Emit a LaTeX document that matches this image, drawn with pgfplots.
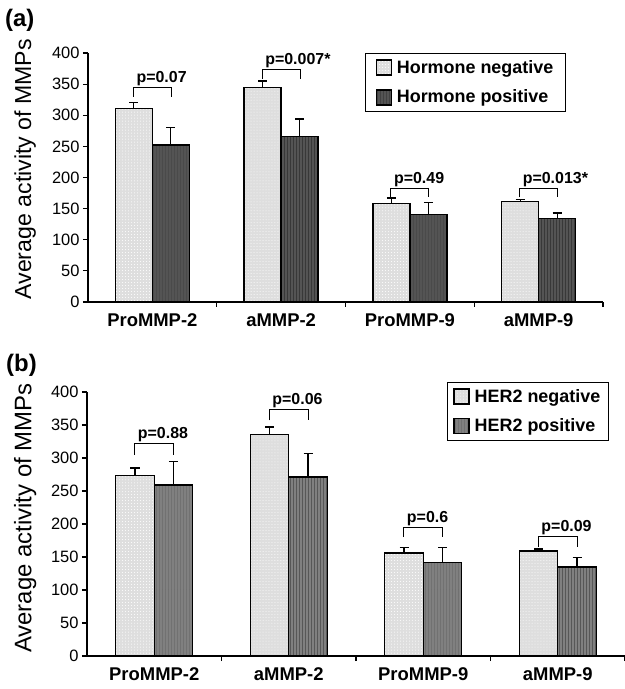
\documentclass[border=0pt]{standalone}
\usepackage{fontspec}
\setmainfont{Liberation Sans}
\usepackage{pgfplots}
\pgfplotsset{compat=1.18}
\usetikzlibrary{patterns}

\tikzset{
  negfill/.style={fill=black!13, postaction={pattern=dots, pattern color=white}},
  posfillA/.style={fill=black!67, postaction={pattern=vertical lines, pattern color=black!78}},
  posfillB/.style={fill=black!50, postaction={pattern=vertical lines, pattern color=black!66}},
}
\newcommand{\pbr}[5]{%
  \draw[line width=1bp] ([xshift=-#5]axis cs:#1,#3) -- ([xshift=-#5]axis cs:#1,#2)
     -- ([xshift=#5]axis cs:#1,#2) -- ([xshift=#5]axis cs:#1,#3);
  \node[anchor=base west, inner sep=0pt, font=\bfseries\fontsize{16}{18}\selectfont]
     at ([xshift=-#5+3bp, yshift=5bp]axis cs:#1,#2) {#4};}

\pgfplotsset{
  mmpaxis/.style={
    scale only axis,
    axis lines*=left,
    axis line style={-, line width=1.3bp},
    xmin=-0.5, xmax=3.5, ymin=0, ymax=400,
    ytick={0,50,...,400},
    tick align=outside,
    major tick length=5bp,
    minor tick length=5bp,
    tick style={line width=1.2bp, black},
    xtick={0,1,2,3},
    xticklabels={ProMMP-2,aMMP-2,ProMMP-9,aMMP-9},
    major x tick style={draw=none},
    minor xtick={0.5,1.5,2.5,3.5},
    /pgf/number format/assume math mode=true,
    yticklabel style={font=\fontsize{16.5}{18}\selectfont},
    xticklabel style={font=\bfseries\fontsize{18.5}{20}\selectfont, yshift=-3bp},
    ybar=0pt,
    legend cell align=left,
    legend style={draw=black, line width=1bp, font=\bfseries\fontsize{18}{20}\selectfont,
      row sep=11bp, inner xsep=10bp, inner ysep=5bp, anchor=north west},
  },
  eb/.style={error bars/.cd, y dir=plus, y explicit,
    error bar style={line width=1.2bp, black},
    error mark options={rotate=90, mark size=4.5bp, line width=1.2bp, black}},
}
\newcommand{\legsq}[1]{\addlegendimage{legend image code/.code={\draw[#1, draw=black, line width=1.6bp] (0bp,-7.5bp) rectangle (15bp,7.5bp); \path (18bp,0bp);}}}

\begin{document}
\begin{tikzpicture}
\useasboundingbox (0,0) rectangle (625bp,689bp);

% ---------- panel (a)
\node[anchor=north west, inner sep=0pt, font=\bfseries\fontsize{24}{28}\selectfont] at (5bp,680bp) {(a)};
\begin{axis}[mmpaxis,
  at={(88bp,387bp)}, anchor=south west,
  width=515bp, height=249bp,
  bar width=37bp,
  ylabel={Average activity of MMPs},
  ylabel style={font=\fontsize{23.2}{26}\selectfont, at={(axis description cs:-0.122,0.533)}, anchor=center, rotate=0},
  legend style={at={(0.538,1.0)}},
]
\legsq{negfill}
\addlegendentry{Hormone negative}
\legsq{posfillA}
\addlegendentry{Hormone positive}
\addplot[negfill, draw=black, line width=1.3bp, forget plot, bar shift=-18.5bp, eb]
  coordinates {(0,311) +- (0,10) (1,345) +- (0,10) (2,158) +- (0,9) (3,161) +- (0,4)};
\addplot[posfillA, draw=black, line width=1.3bp, forget plot, bar shift=18.5bp, eb]
  coordinates {(0,252) +- (0,28) (1,266) +- (0,28) (2,141) +- (0,19) (3,134) +- (0,9)};
\pbr{0}{345}{330}{p=0.07}{19bp}
\pbr{1}{373}{358}{p=0.007*}{19bp}
\pbr{2}{183}{168}{p=0.49}{19bp}
\pbr{3}{183}{168}{p=0.013*}{19bp}
\end{axis}

% ---------- panel (b)
\node[anchor=north west, inner sep=0pt, font=\bfseries\fontsize{24}{28}\selectfont] at (6bp,335bp) {(b)};
\begin{axis}[mmpaxis,
  at={(87bp,33bp)}, anchor=south west,
  width=538bp, height=264bp,
  bar width=38.5bp,
  ylabel={Average activity of MMPs},
  ylabel style={font=\fontsize{24}{26}\selectfont, at={(axis description cs:-0.115,0.522)}, anchor=center, rotate=0},
  legend style={at={(0.669,1.038)}, inner xsep=6bp},
]
\legsq{negfill}
\addlegendentry{HER2 negative}
\legsq{posfillB}
\addlegendentry{HER2 positive}
\addplot[negfill, draw=black, line width=1.3bp, forget plot, bar shift=-19.25bp, eb]
  coordinates {(0,274) +- (0,11) (1,336) +- (0,11) (2,156) +- (0,9) (3,159) +- (0,3)};
\addplot[posfillB, draw=black, line width=1.3bp, forget plot, bar shift=19.25bp, eb]
  coordinates {(0,259) +- (0,36) (1,271) +- (0,36) (2,142) +- (0,22) (3,135) +- (0,14)};
\pbr{0}{322}{305}{p=0.88}{19.5bp}
\pbr{1}{374}{357}{p=0.06}{19.5bp}
\pbr{2}{195}{180}{p=0.6}{19.5bp}
\pbr{3}{181}{165}{p=0.09}{19.5bp}
\end{axis}
\end{tikzpicture}
\end{document}
